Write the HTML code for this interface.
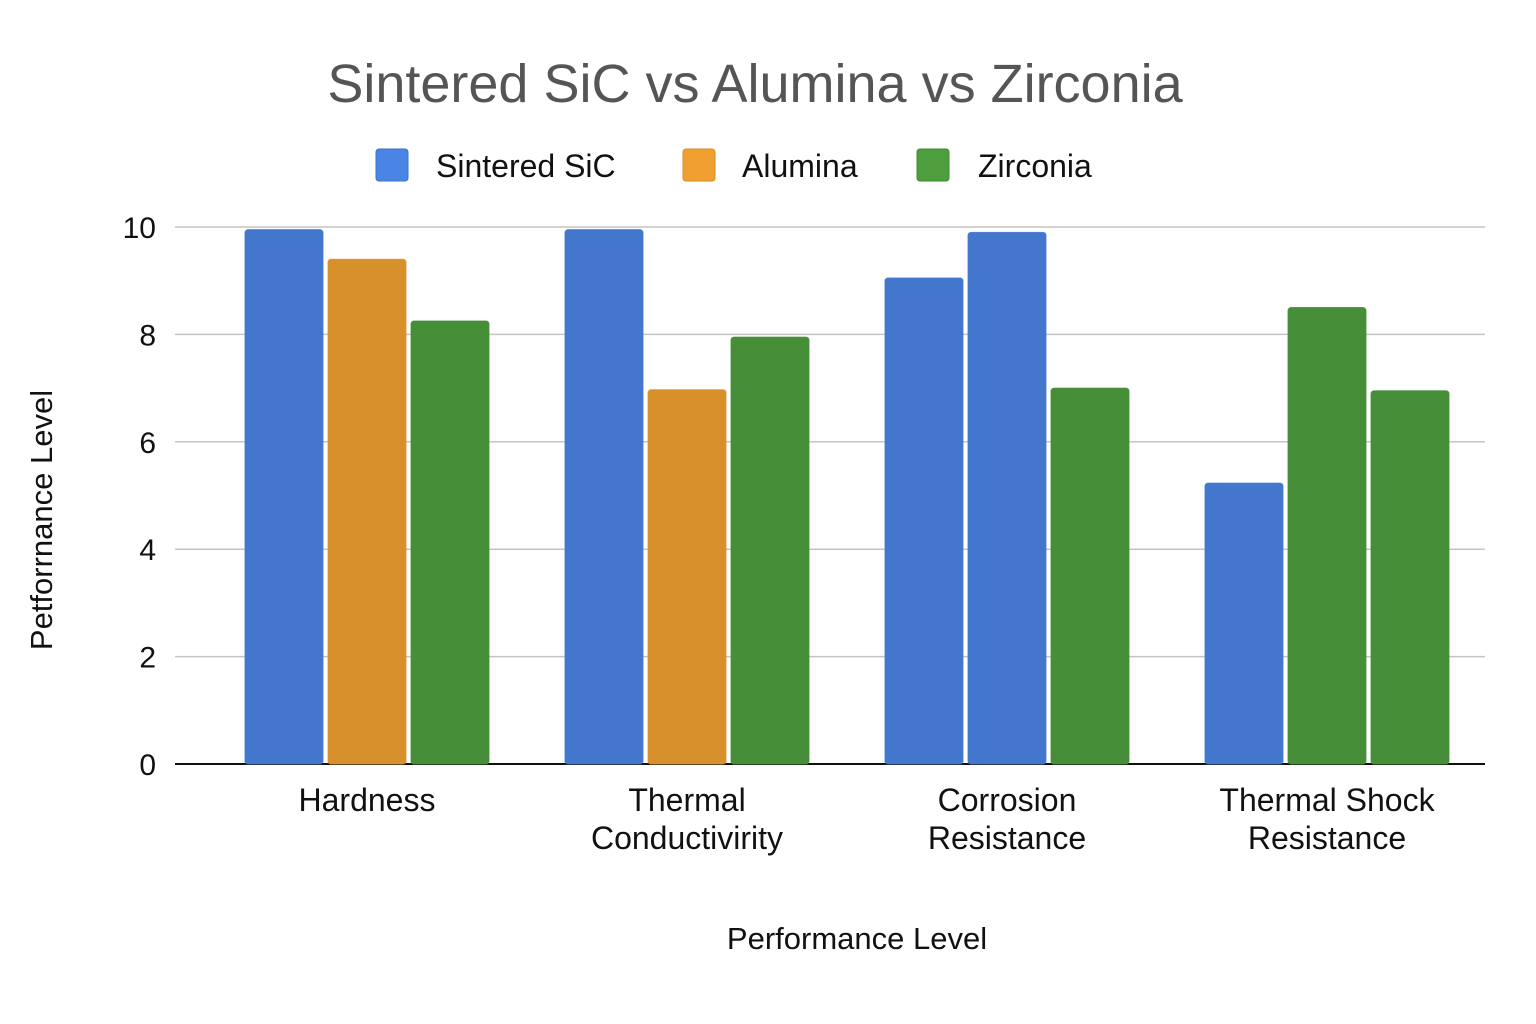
<!DOCTYPE html>
<html><head><meta charset="utf-8"><style>
body{margin:0;background:#fff;}
svg{display:block;font-family:"Liberation Sans",sans-serif;}
</style></head><body>
<svg id="chart" width="1536" height="1024" viewBox="0 0 1536 1024">
<text x="755" y="102" font-size="54" fill="#555" text-anchor="middle">Sintered SiC vs Alumina vs Zirconia</text>
<g>
<rect x="376" y="149" width="32" height="32" rx="3" fill="#4a84e4" stroke="#3a70cc"/>
<text x="436" y="177" font-size="32" fill="#111">Sintered SiC</text>
<rect x="683" y="149" width="32" height="32" rx="3" fill="#f0a030" stroke="#d88c20"/>
<text x="742" y="177" font-size="32" fill="#111">Alumina</text>
<rect x="917" y="149" width="32" height="32" rx="3" fill="#4e9e3e" stroke="#3c8a30"/>
<text x="978" y="177" font-size="32" fill="#111">Zirconia</text>
</g>
<g id="grid"></g><g id="bars"></g><g id="labels"></g>
<text transform="translate(52,520) rotate(-90)" font-size="31" fill="#111" text-anchor="middle">Petforrnance Level</text>
<text x="857" y="949" font-size="31" fill="#111" text-anchor="middle">Performance Level</text>
</svg>
<script>
const categories=[["Hardness"],["Thermal","Conductivirity"],["Corrosion","Resistance"],["Thermal Shock","Resistance"]];
const sicValues=[9.95,9.95,9.05,5.23];
const aluminaValues=[9.4,6.97,9.9,8.5];
const zirconiaValues=[8.25,7.95,7.0,6.95];
const barColors=[["#4a84e4","#f0a030","#4e9e3e"],["#4a84e4","#f0a030","#4e9e3e"],["#4a84e4","#4a84e4","#4e9e3e"],["#4a84e4","#4e9e3e","#4e9e3e"]];
const yTicks=[0,2,4,6,8,10];
const NS="http://www.w3.org/2000/svg";
const x0=175,x1=1485,y0=764,yTop=227,yMax=10;
const y=v=>y0-(v/yMax)*(y0-yTop);
const bandStart=205,band=(x1-bandStart)/categories.length;
const cx=i=>bandStart+band*(i+0.5)+2;
const bw=78,gap=5;
function mk(t,a,p){const e=document.createElementNS(NS,t);for(const k in a)e.setAttribute(k,a[k]);p.appendChild(e);return e;}
const grid=document.getElementById('grid'),bars=document.getElementById('bars'),labels=document.getElementById('labels');
yTicks.forEach(t=>{
 const l=mk('line',{x1:x0,x2:x1,y1:y(t),y2:y(t),stroke:t===0?'#111':'#c4c4c4','stroke-width':t===0?2:1.5},grid);
 
 
 const tx=mk('text',{x:156,y:y(t)+11,'font-size':30,fill:'#111','text-anchor':'end'},labels);
 tx.textContent=t;
 
 
});
const series=[sicValues,aluminaValues,zirconiaValues];
const snames=['sintered-sic','alumina','zirconia'];
categories.forEach((c,i)=>{
 series.forEach((s,j)=>{
  const bx=cx(i)+(j-1)*(bw+gap)-bw/2;
  const col=barColors[i][j];
  const r=mk('rect',{x:bx,y:y(s[i]),width:bw,height:y0-y(s[i]),rx:3,fill:col,stroke:col,'stroke-opacity':0.8,'filter':'brightness(0.9)'},bars);
  
  
 });
 c.forEach((line,k)=>{
  const t=mk('text',{x:cx(i),y:811+k*38,'font-size':32,fill:'#111','text-anchor':'middle'},labels);
  t.textContent=line;
  
  
 });
});
</script>
</body></html>
